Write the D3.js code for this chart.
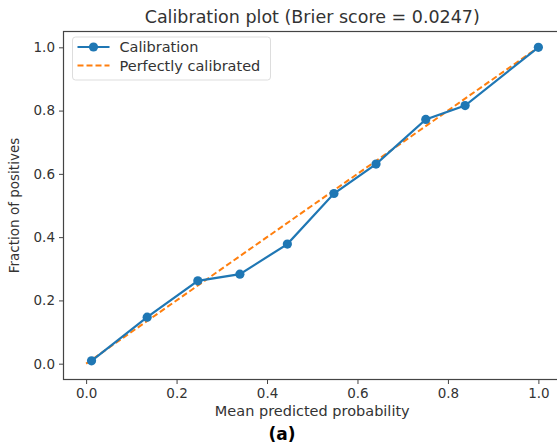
<!DOCTYPE html>
<html>
<head>
<meta charset="utf-8">
<script src="https://cdn.jsdelivr.net/npm/d3@7"></script>
<style>
  body { margin: 0; background: #fff; }
  svg text { font-family: "DejaVu Sans", sans-serif; fill: #333; }
</style>
</head>
<body>
<div id="chart"></div>
<script>
// data
const meanPredicted = [0.012, 0.135, 0.247, 0.340, 0.445, 0.548, 0.641, 0.751, 0.838, 1.0];
const fractionPositives = [0.009, 0.147, 0.262, 0.283, 0.378, 0.538, 0.631, 0.772, 0.816, 1.0];
const perfectLine = [0, 1];
const tickValues = [0, 0.2, 0.4, 0.6, 0.8, 1.0];
const seriesNames = ['Calibration', 'Perfectly calibrated'];
const titleText = 'Calibration plot (Brier score = 0.0247)';

const width = 557, height = 447;
const plot = { left: 63.5, right: 561, top: 31.5, bottom: 379.5 };

const svg = d3.select('#chart').append('svg')
  .attr('width', width).attr('height', height);

const x = d3.scaleLinear().domain([-0.05, 1.05]).range([plot.left, plot.right]);
const y = d3.scaleLinear().domain([-0.05, 1.05]).range([plot.bottom, plot.top]);

// frame
svg.append('rect')
  .attr('x', plot.left).attr('y', plot.top)
  .attr('width', plot.right - plot.left).attr('height', plot.bottom - plot.top)
  .attr('fill', 'none').attr('stroke', '#444').attr('stroke-width', 1.2);

// axes
const xAxis = svg.append('g')
  .attr('transform', 'translate(0,' + plot.bottom + ')')
  .call(d3.axisBottom(x).tickValues(tickValues).tickFormat(d3.format('.1f')).tickSizeOuter(0).tickSize(4.5).tickPadding(4));
const yAxis = svg.append('g')
  .attr('transform', 'translate(' + plot.left + ',0)')
  .call(d3.axisLeft(y).tickValues(tickValues).tickFormat(d3.format('.1f')).tickSizeOuter(0).tickSize(4.5).tickPadding(4));
[xAxis, yAxis].forEach(a => {
  a.select('.domain').remove();
  a.selectAll('.tick line').attr('stroke', '#444');
  a.selectAll('.tick text').attr('font-size', 13.5).attr('fill', '#333');
});

// perfectly calibrated reference
svg.append('path')
  .datum(perfectLine)
  .attr('fill', 'none')
  .attr('stroke', '#ff7f0e')
  .attr('stroke-width', 2)
  .attr('stroke-dasharray', '6,3')
  .attr('d', d3.line().x(d => x(d)).y(d => y(d)));

// calibration curve
const pts = meanPredicted.map((d, i) => [d, fractionPositives[i]]);
svg.append('path')
  .datum(pts)
  .attr('fill', 'none')
  .attr('stroke', '#1f77b4')
  .attr('stroke-width', 2.2)
  .attr('d', d3.line().x(d => x(d[0])).y(d => y(d[1])));
svg.selectAll('.pt').data(pts).enter().append('circle')
  .attr('class', 'pt')
  .attr('cx', d => x(d[0])).attr('cy', d => y(d[1]))
  .attr('r', 4.6).attr('fill', '#1f77b4');

// labels
svg.append('text')
  .attr('x', (plot.left + plot.right) / 2).attr('y', 23)
  .attr('text-anchor', 'middle').attr('font-size', 17.5)
  .text(titleText);
svg.append('text')
  .attr('x', (plot.left + plot.right) / 2).attr('y', 416)
  .attr('text-anchor', 'middle').attr('font-size', 14.5)
  .text('Mean predicted probability');
svg.append('text')
  .attr('transform', 'translate(19,' + ((plot.top + plot.bottom) / 2) + ') rotate(-90)')
  .attr('text-anchor', 'middle').attr('font-size', 13.5)
  .text('Fraction of positives');
svg.append('text')
  .attr('x', 282).attr('y', 440)
  .attr('text-anchor', 'middle').attr('font-size', 17).attr('font-weight', 'bold')
  .style('fill', '#000')
  .text('(a)');

// legend
const legend = svg.append('g').attr('transform', 'translate(72.5,37)');
legend.append('rect')
  .attr('width', 198).attr('height', 43).attr('rx', 3)
  .attr('fill', '#fff').attr('stroke', '#ddd').attr('stroke-width', 1);
const rows = legend.selectAll('.row').data(seriesNames).enter().append('g')
  .attr('transform', (d, i) => 'translate(0,' + (10 + i * 18.5) + ')');
rows.append('line')
  .attr('x1', 5).attr('x2', 37).attr('y1', 0).attr('y2', 0)
  .attr('stroke', (d, i) => i === 0 ? '#1f77b4' : '#ff7f0e')
  .attr('stroke-width', (d, i) => i === 0 ? 2.2 : 2)
  .attr('stroke-dasharray', (d, i) => i === 0 ? null : '6,3');
rows.filter((d, i) => i === 0).append('circle')
  .attr('cx', 21).attr('cy', 0).attr('r', 4.6).attr('fill', '#1f77b4');
rows.append('text')
  .attr('x', 47).attr('y', 0).attr('dy', '0.35em')
  .attr('font-size', 14.5)
  .text(d => d);
</script>
</body>
</html>
